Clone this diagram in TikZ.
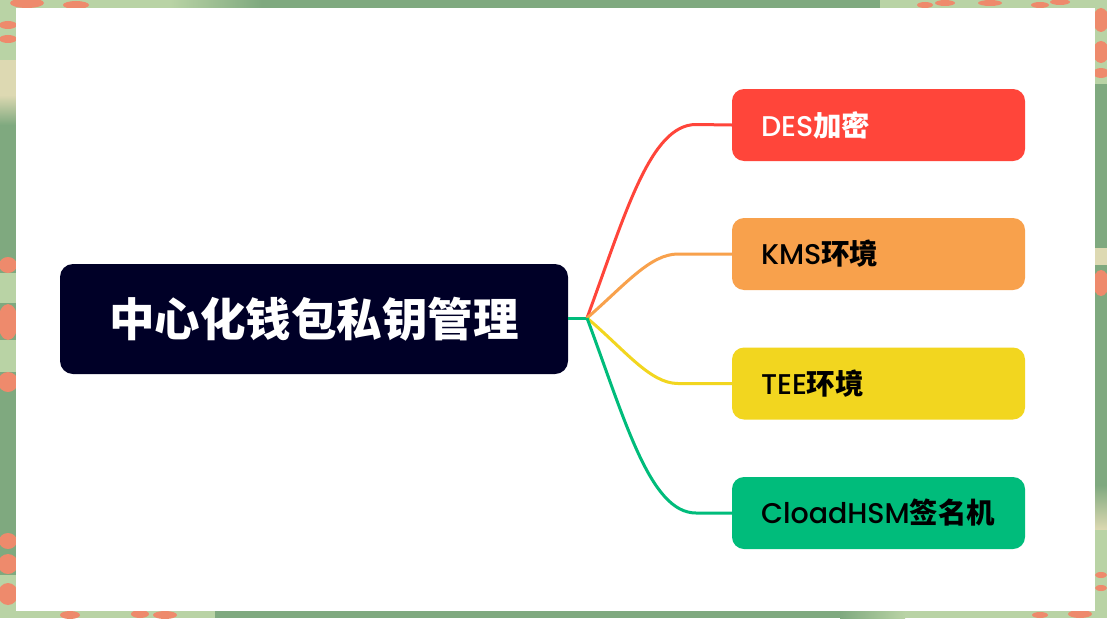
\documentclass[tikz,border=0pt]{standalone}
\usepackage{fontspec}
\setmainfont{Poppins Medium}
\newfontfamily\cjk{Noto Sans CJK SC}
\usepackage{xcolor}
\definecolor{framegreen}{HTML}{7FA97F}
\definecolor{framelight}{HTML}{B9D3A5}
\definecolor{framecream}{HTML}{DDD9B2}
\definecolor{petal}{HTML}{EE8A6C}
\definecolor{rootnavy}{HTML}{000027}
\definecolor{desred}{HTML}{FF453A}
\definecolor{kmsorange}{HTML}{F8A14C}
\definecolor{teeyellow}{HTML}{F2D61F}
\definecolor{hsmgreen}{HTML}{00BC7B}
\tikzset{
    rootbox/.style={fill=rootnavy,text=white,rounded corners=13pt,minimum width=508pt,minimum height=110pt,inner sep=0pt,font=\fontsize{45.5}{46}\cjk\bfseries},
    leafbox/.style={rounded corners=12pt,minimum width=293pt,minimum height=72pt,inner sep=0pt,font=\fontsize{28.5}{29}\selectfont},
    branch/.style={line width=3pt}
}
\newcommand{\leaftext}[2]{\makebox[235pt][l]{#1{\cjk\bfseries #2}}}

\begin{document}
\begin{tikzpicture}[x=1pt,y=-1pt]
        \useasboundingbox (0,0) rectangle (1107,618);
        \fill[framegreen] (0,0) rectangle (1107,618);
        % light patches of the frame
        \fill[framelight] (0,0) rectangle (170,8);
        \fill[left color=framelight,right color=framegreen] (170,0) rectangle (262,8);
        \fill[framelight] (880,0) rectangle (1107,8);
        \fill[framelight] (0,611) rectangle (215,618);
        \fill[left color=framegreen,right color=framelight] (840,611) rectangle (905,618);
        \fill[framelight] (905,611) rectangle (1107,618);
        \fill[framelight] (0,0) rectangle (16,60);
        \fill[framecream] (0,60) rectangle (16,95);
        \fill[top color=framecream,bottom color=framegreen] (0,95) rectangle (16,125);
        \fill[framelight] (0,273) rectangle (16,303);
        \fill[framelight] (0,340) rectangle (16,372);
        \fill[framelight] (0,575) rectangle (16,618);
        \fill[framelight] (1095,0) rectangle (1107,84);
        \fill[framecream] (1095,248) rectangle (1107,265);
        \fill[top color=framegreen,bottom color=framecream] (1095,485) rectangle (1107,530);
        \fill[framelight] (1095,530) rectangle (1107,618);
        % flowers
        \foreach \px/\py/\rx/\ry in {8/265/9/8,8/322/10/18,8/382/10/10,8/541/9/8,8/564/10/10,8/594/10/11,8/25/9/4,8/39/9/4,
            1101/20/8/12,1101/52/8/11,1101/73/8/5,1101/283/8/13,1101/575/6/3,1101/588/6/3,
            27/3/17/5,76/5/13/4,925/5/8/3,945/3/10/3,990/3/12/3,1040/5/9/3,1060/2/10/3,
            70/615/10/4,140/614/9/4,165/615/12/4,1040/615/8/3,1080/614/12/4}
            \fill[petal] (\px,\py) ellipse ({\rx pt} and {\ry pt});
        \fill[white] (16,8) rectangle (1095,611);

        \draw (314,319) node[rootbox](root){中心化钱包私钥管理};
        \draw (878.5,125) node[leafbox,fill=desred,text=white](des){\leaftext{DES}{加密}};
        \draw (878.5,254) node[leafbox,fill=kmsorange,text=black](kms){\leaftext{KMS}{环境}};
        \draw (878.5,383.5) node[leafbox,fill=teeyellow,text=black](tee){\leaftext{TEE}{环境}};
        \draw (878.5,513) node[leafbox,fill=hsmgreen,text=black](hsm){\leaftext{CloadHSM}{签名机}};
        \coordinate (hub) at (587,318);

        \draw[branch,hsmgreen] (root.east |- hub) -- (hub);
        \draw[branch,desred] (hub) .. controls (625,215) and (650,124.5) .. (696,124.5) -- (des.west);
        \draw[branch,kmsorange] (hub) .. controls (625,285) and (650,254) .. (678,254) -- (kms.west);
        \draw[branch,teeyellow] (hub) .. controls (625,350) and (650,383.5) .. (678,383.5) -- (tee.west);
        \draw[branch,hsmgreen] (hub) .. controls (625,420) and (650,513) .. (696,513) -- (hsm.west);
    \end{tikzpicture}
\end{document}
